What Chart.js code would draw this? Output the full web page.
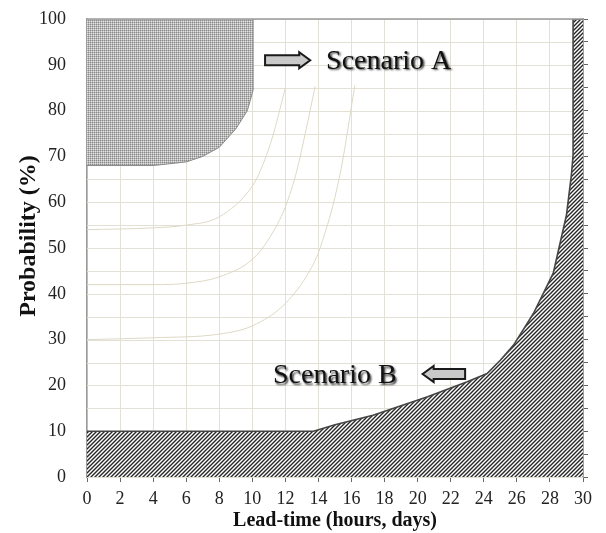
<!DOCTYPE html>
<html>
<head>
<meta charset="utf-8">
<script src="https://cdn.jsdelivr.net/npm/chart.js@4.4.1/dist/chart.umd.min.js"></script>
<style>
  html, body { margin: 0; padding: 0; background: #fff; }
  canvas { display: block; }
</style>
</head>
<body>
<canvas id="chart" width="606" height="533"></canvas>
<script>
// Scenario A region (upper left, filled up to 100 %)
const leadTimeA = [0, 2, 4, 6, 7, 8, 9, 9.7, 10.05, 10.05];
const probA = [68, 68, 68, 68.8, 70, 72, 76, 80, 84.5, 100];

// Scenario B region (bottom / right, filled down to 0 %)
const leadTimeB = [0, 13.7, 15, 17.3, 20.6, 23, 24.2, 25, 25.8, 27, 28.2, 29, 29.3, 29.4, 29.4, 30];
const probB = [10, 10, 11.4, 13.5, 17.5, 20.8, 22.6, 25.5, 28.8, 35.7, 44.5, 57.2, 66, 70.3, 100, 100];

// thin iso-lines between the two scenarios
const leadTimeC1 = [0, 4, 6, 8, 10, 10.5, 11.2, 12.0];
const probC1 = [54, 54.4, 55, 56.8, 63.5, 67, 74, 85];
const leadTimeC2 = [0, 4, 6, 8, 10, 11, 12, 12.7, 13.2, 13.8];
const probC2 = [42, 42, 42.3, 43.7, 47.5, 52, 59, 67, 75, 85.3];
const leadTimeC3 = [0, 4, 8, 10, 12, 13.5, 14.1, 15.3, 16.2];
const probC3 = [30, 30.4, 31.2, 33, 37.9, 45.2, 50, 66, 85.5];

// axis ticks
const xTicks = [0, 2, 4, 6, 8, 10, 12, 14, 16, 18, 20, 22, 24, 26, 28, 30];
const yTicks = [0, 10, 20, 30, 40, 50, 60, 70, 80, 90, 100];
const yGrid = [0, 5, 10, 15, 20, 25, 30, 35, 40, 45, 50, 55, 60, 65, 70, 75, 80, 85, 90, 95, 100];

// annotation labels, in data units
const labelA = { text: "Scenario A", x: 14.46, y: 89.1 };
const labelB = { text: "Scenario B", x: 11.25, y: 20.5 };
const arrowA = { from: 10.77, to: 13.5, y: 91.0 };
const arrowB = { from: 22.87, to: 20.3, y: 22.5 };

const toPoints = (xs, ys) => xs.map((x, i) => ({ x: x, y: ys[i] }));

const ctx = document.getElementById("chart").getContext("2d");

// dotted grey fill for scenario A
function dotPattern() {
  const c = document.createElement("canvas");
  c.width = 2; c.height = 2;
  const p = c.getContext("2d");
  p.fillStyle = "#e2e2e2"; p.fillRect(0, 0, 2, 2);
  p.fillStyle = "#b8b8b8"; p.fillRect(1, 0, 1, 1); p.fillRect(0, 1, 1, 1);
  p.fillStyle = "#8a8a8a"; p.fillRect(0, 0, 1, 1);
  return ctx.createPattern(c, "repeat");
}

// "/" hatching for scenario B
function hatchPattern() {
  const s = 4;
  const c = document.createElement("canvas");
  c.width = s; c.height = s;
  const p = c.getContext("2d");
  p.fillStyle = "#fff"; p.fillRect(0, 0, s, s);
  p.strokeStyle = "#262626";
  p.lineWidth = 1.4;
  p.beginPath();
  p.moveTo(0, s); p.lineTo(s, 0);
  p.moveTo(-1, 1); p.lineTo(1, -1);
  p.moveTo(s - 1, s + 1); p.lineTo(s + 1, s - 1);
  p.stroke();
  return ctx.createPattern(c, "repeat");
}

const isoLine = (xs, ys) => ({
  data: toPoints(xs, ys),
  showLine: true,
  borderColor: "#ddd9c6",
  borderWidth: 1,
  pointRadius: 0,
  fill: false,
  cubicInterpolationMode: "monotone",
});

function drawArrow(c, x0, x1, y) {
  const dir = x1 > x0 ? 1 : -1;
  const head = 11, hh = 8, bh = 5;
  const hx = x1 - dir * head;
  c.beginPath();
  c.moveTo(x0, y - bh);
  c.lineTo(hx, y - bh);
  c.lineTo(hx, y - hh);
  c.lineTo(x1, y);
  c.lineTo(hx, y + hh);
  c.lineTo(hx, y + bh);
  c.lineTo(x0, y + bh);
  c.closePath();
  c.fillStyle = "#c9c9c9";
  c.fill();
  c.lineWidth = 2;
  c.strokeStyle = "#1a1a1a";
  c.stroke();
}

// horizontal grid, arrows and scenario names, placed through the scales
const annotations = {
  id: "annotations",
  beforeDatasetsDraw(chart) {
    const a = chart.chartArea;
    const c = chart.ctx;
    const ys = chart.scales.y;
    c.save();
    c.strokeStyle = "#e3e0d5";
    c.lineWidth = 1;
    yGrid.forEach((v) => {
      const py = Math.round(ys.getPixelForValue(v)) + 0.5;
      c.beginPath();
      c.moveTo(a.left, py);
      c.lineTo(a.right, py);
      c.stroke();
    });
    c.restore();
  },
  afterDatasetsDraw(chart) {
    const c = chart.ctx;
    const xs = chart.scales.x, ys = chart.scales.y;
    c.save();
    drawArrow(c, xs.getPixelForValue(arrowA.from), xs.getPixelForValue(arrowA.to), ys.getPixelForValue(arrowA.y));
    drawArrow(c, xs.getPixelForValue(arrowB.from), xs.getPixelForValue(arrowB.to), ys.getPixelForValue(arrowB.y));
    c.font = "28px 'Liberation Serif', serif";
    c.fillStyle = "#111";
    c.textAlign = "left";
    c.textBaseline = "alphabetic";
    c.shadowColor = "rgba(0,0,0,0.75)";
    c.shadowOffsetX = 1.5;
    c.shadowOffsetY = 1.5;
    c.shadowBlur = 2;
    [labelA, labelB].forEach((l) => {
      c.fillText(l.text, xs.getPixelForValue(l.x), ys.getPixelForValue(l.y));
    });
    c.restore();
  },
  afterDraw(chart) {
    // top frame line of the plot area
    const a = chart.chartArea;
    const c = chart.ctx;
    c.save();
    c.strokeStyle = "#9a9a9a";
    c.lineWidth = 1.5;
    c.beginPath();
    c.moveTo(a.left, a.top);
    c.lineTo(a.right, a.top);
    c.stroke();
    c.restore();
  },
};

const tickFont = { family: "'Liberation Serif', serif", size: 18 };

// fixed box sizes so the plot area sits where it does in the original
const fixWidth = (w) => (s) => { s.width = w; s.paddingTop = 0; s.paddingBottom = 0; };

new Chart(ctx, {
  type: "scatter",
  data: {
    datasets: [
      isoLine(leadTimeC1, probC1),
      isoLine(leadTimeC2, probC2),
      isoLine(leadTimeC3, probC3),
      {
        data: toPoints(leadTimeA, probA),
        showLine: true,
        borderColor: "#8a8a8a",
        borderWidth: 1,
        pointRadius: 0,
        backgroundColor: dotPattern(),
        fill: "end",
      },
      {
        data: toPoints(leadTimeB, probB),
        showLine: true,
        borderColor: "#444",
        borderWidth: 1.6,
        pointRadius: 0,
        backgroundColor: hatchPattern(),
        fill: "origin",
      },
    ],
  },
  options: {
    responsive: false,
    animation: false,
    devicePixelRatio: 1,
    layout: { padding: { top: 19, left: 0, right: 0, bottom: 0 } },
    plugins: { legend: { display: false }, tooltip: { enabled: false } },
    scales: {
      x: {
        type: "linear",
        min: 0,
        max: 30,
        afterBuildTicks: (s) => { s.ticks = xTicks.map((v) => ({ value: v })); },
        afterFit: (s) => { s.height = 56; s.paddingLeft = 0; s.paddingRight = 0; },
        ticks: { font: tickFont, color: "#222", padding: 6, maxRotation: 0, autoSkip: false },
        grid: { color: "#e3e0d5", tickColor: "#666", tickLength: 5 },
        border: { color: "#8c8c8c", width: 1.5 },
        title: {
          display: true,
          text: "Lead-time (hours, days)",
          font: { family: "'Liberation Serif', serif", size: 20, weight: "bold" },
          color: "#111",
          padding: 0,
        },
      },
      y: {
        type: "linear",
        min: 0,
        max: 100,
        afterBuildTicks: (s) => { s.ticks = yTicks.map((v) => ({ value: v })); },
        afterFit: fixWidth(87),
        ticks: { font: tickFont, color: "#222", padding: 13, autoSkip: false },
        grid: { display: false },
        border: { color: "#9a9a9a", width: 1.5 },
        title: {
          display: true,
          // leading spaces nudge the centred title up a little, as in the original
          text: "    Probability (%)",
          font: { family: "'Liberation Serif', serif", size: 24, weight: "bold" },
          color: "#111",
          padding: { top: 14, bottom: 0 },
        },
      },
      y2: {
        type: "linear",
        position: "right",
        min: 0,
        max: 100,
        afterBuildTicks: (s) => { s.ticks = yGrid.map((v) => ({ value: v })); },
        afterFit: fixWidth(23),
        ticks: { display: false, autoSkip: false },
        grid: { drawOnChartArea: false, tickColor: "#666", tickLength: 5 },
        border: { color: "#a0a0a0", width: 2 },
      },
    },
  },
  plugins: [annotations],
});
</script>
</body>
</html>
